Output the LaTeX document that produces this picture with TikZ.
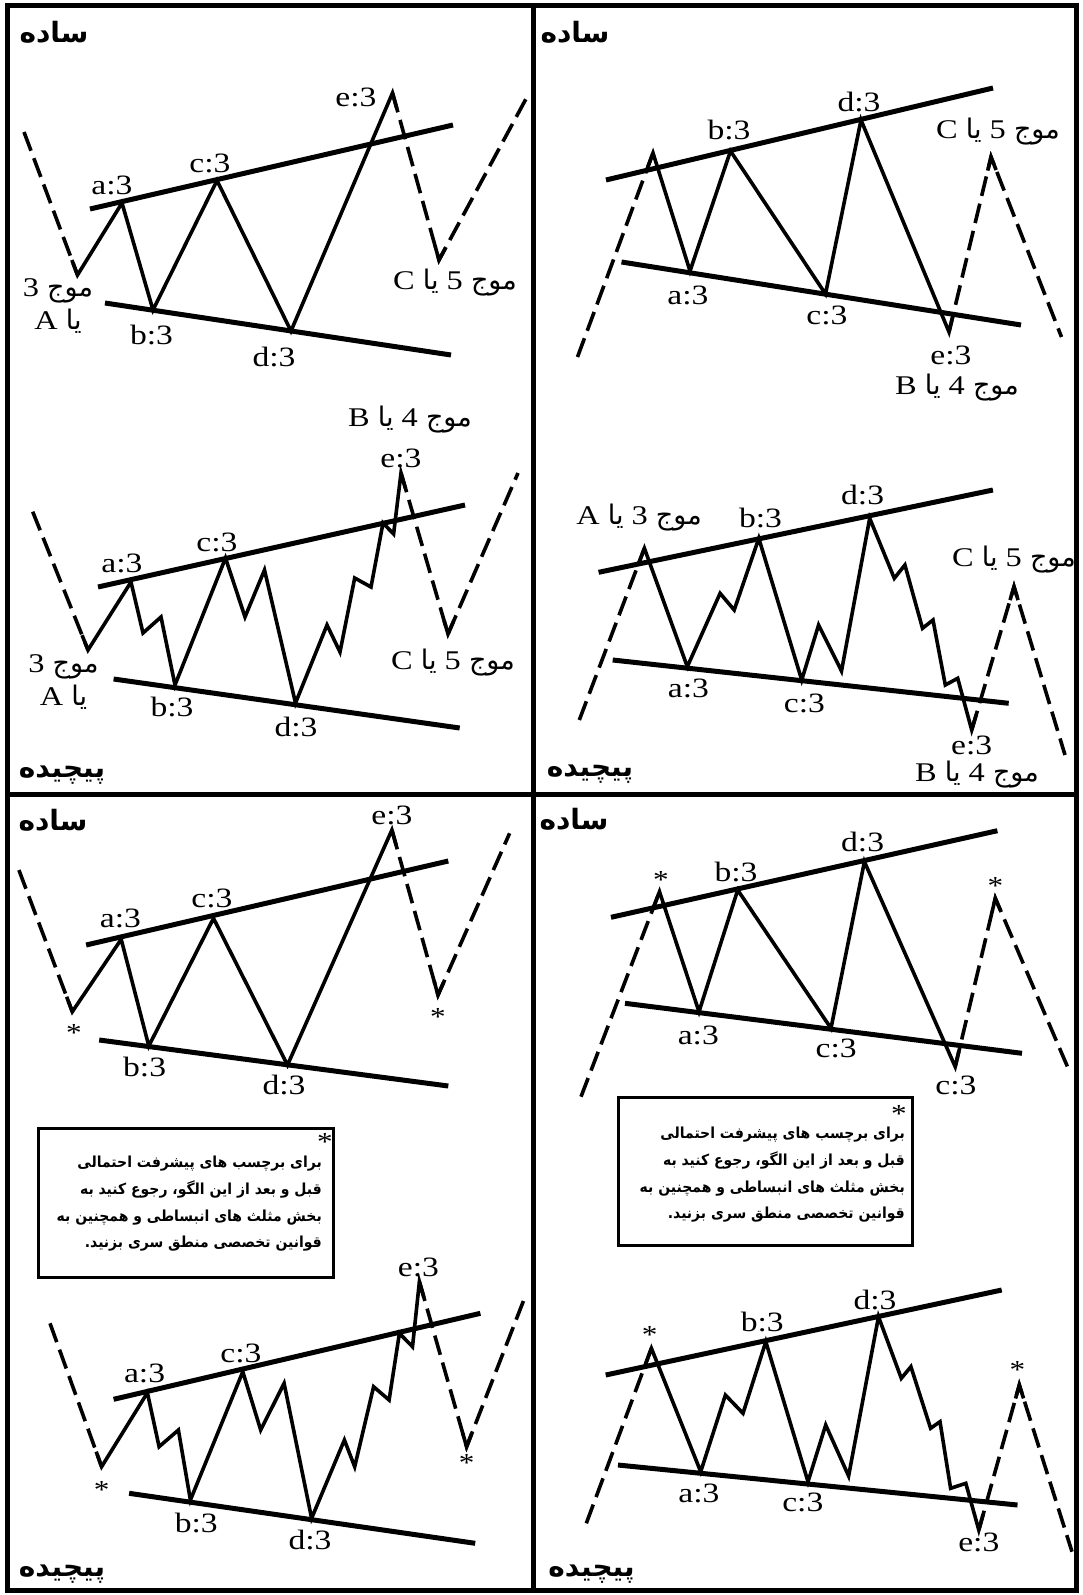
\documentclass[tikz,border=0pt]{standalone}
\usepackage{fontspec}
\setmainfont{Liberation Serif}[FakeStretch=1.2]
\newfontfamily\ar[Script=Arabic]{DejaVu Sans}
\newfontfamily\arn[Script=Arabic,FakeStretch=0.92]{DejaVu Sans}
\TeXXeTstate=1
\usetikzlibrary{calc}
\newcommand\mowj[2]{\beginR{\ar موج} #1 {\ar یا} #2\endR}
\newcommand\twoline{\beginR{\ar موج} 3\endR\\\beginR{\ar یا} A\endR}
\newcommand\notetext{%
\beginR برای برچسب های پیشرفت احتمالی\endR\hspace{14pt}\\
\beginR قبل و بعد از این الگو، رجوع کنید به\endR\\
\beginR بخش مثلث های انبساطی و همچنین به\endR\\
\beginR قوانین تخصصی منطق سری بزنید.\endR}
\begin{document}
\begin{tikzpicture}[x=1pt,y=-1pt,
  wave/.style={line width=3.6pt},
  dsh/.style={line width=3.6pt, dash pattern=on 20pt off 8pt},
  trend/.style={line width=5pt},
  lbl/.style={font=\fontsize{28}{30}\selectfont, inner sep=0pt},
  fa/.style={font=\fontsize{27}{33}\selectfont, inner sep=0pt, align=center},
  ttl/.style={font=\ar\bfseries\fontsize{28}{30}\selectfont, inner sep=0pt},
  star/.style={font=\fontsize{26}{28}\selectfont, inner sep=0pt},
  notebox/.style={draw, line width=3pt},
  notetxt/.style={font=\arn\bfseries\fontsize{15.2}{26.7}\selectfont, inner sep=0pt, align=right},
]
\useasboundingbox (0,0) rectangle (1082,1595);
\fill[white] (0,0) rectangle (1082,1595);
% frame
\draw[line width=5pt] (7,6) rectangle (1076,1590);
\draw[line width=5pt] (533,6) -- (533,1590);
\draw[line width=5pt] (7,794) -- (1076,794);

% ---------------- Panel 1 (top-left, simple)
\node[ttl] (t1) at (54,32) {ساده};
\draw[trend] (90,209) -- (453,125);
\draw[trend] (105,303) -- (451,355);
\draw[dsh] (24,132) -- (77.5,275);
\draw[wave] ($(77.5,275)!16pt!(24,132)$) -- (77.5,275) -- (122,203) -- (153,310) -- (217,180.5) -- (291,331) -- (392.5,93) -- ($(392.5,93)!16pt!(439,260)$);
\draw[dsh] (392.5,93) -- (439,260) -- (527,97);
\draw[wave] ($(439,260)!14pt!(392.5,93)$) -- (439,260) -- ($(439,260)!14pt!(527,97)$);
\node[lbl] (p1a) at (112,185) {a:3};
\node[lbl] (p1c) at (210,163) {c:3};
\node[lbl] (p1e) at (356,97) {e:3};
\node[lbl] (p1b) at (151.5,335) {b:3};
\node[lbl] (p1d) at (274,357) {d:3};
\node[fa] (p1w3) at (58,306) {\twoline};
\node[fa] (p1w5) at (455,283) {\mowj{5}{C}};

% ---------------- Panel 2 (top-right, simple)
\node[ttl] (t2) at (575,32) {ساده};
\draw[trend] (606,180) -- (993,88);
\draw[trend] (621.5,262) -- (1021,325);
\draw[dsh] (577.5,357) -- (653,153);
\draw[wave] ($(653,153)!16pt!(577.5,357)$) -- (653,153) -- (690,271) -- (730.5,151) -- (825.5,294) -- (861,120) -- (949,332) -- ($(949,332)!16pt!(991,157)$);
\draw[dsh] (949,332) -- (991,157) -- (1061.5,337);
\draw[wave] ($(991,157)!14pt!(949,332)$) -- (991,157) -- ($(991,157)!14pt!(1061.5,337)$);
\node[lbl] (p2b) at (729,130) {b:3};
\node[lbl] (p2d) at (859,102) {d:3};
\node[lbl] (p2a) at (688,295) {a:3};
\node[lbl] (p2c) at (827,315) {c:3};
\node[lbl] (p2e) at (951,355) {e:3};
\node[fa] (p2w5) at (998,132) {\mowj{5}{C}};
\node[fa] (p2w4) at (957,388) {\mowj{4}{B}};

% ---------------- Panel 3 (left, complex)
\node[ttl] (t3) at (62,775) {پیچیده};
\draw[trend] (98,587) -- (465,505);
\draw[trend] (113.6,679) -- (459.7,728);
\draw[dsh] (32.7,511.7) -- (88,650);
\draw[wave] ($(88,650)!16pt!(32.7,511.7)$) -- (88,650) -- (131,582) -- (143,633) -- (161,617) -- (175,685) -- (225.5,558) -- (245,617) -- (264.5,570) -- (295.5,703) -- (327,625) -- (340,652) -- (354.7,578) -- (371,587) -- (383,523) -- (393.6,534) -- (401,473) -- ($(401,473)!16pt!(448,634)$);
\draw[dsh] (401,473) -- (448,634) -- (518,473);
\draw[wave] ($(448,634)!14pt!(401,473)$) -- (448,634) -- ($(448,634)!14pt!(518,473)$);
\node[fa] (p3w4) at (410,420) {\mowj{4}{B}};
\node[lbl] (p3e) at (401,458) {e:3};
\node[lbl] (p3a) at (122,563) {a:3};
\node[lbl] (p3c) at (217,542) {c:3};
\node[lbl] (p3b) at (172,707) {b:3};
\node[lbl] (p3d) at (296,727) {d:3};
\node[fa] (p3w3) at (63.5,682) {\twoline};
\node[fa] (p3w5) at (453,663) {\mowj{5}{C}};

% ---------------- Panel 4 (right, complex)
\node[ttl] (t4) at (590,774) {پیچیده};
\draw[trend] (598.6,572.3) -- (992.9,490);
\draw[trend] (612.7,660) -- (1008.7,703.3);
\draw[dsh] (579.3,720) -- (644.4,548.3);
\draw[wave] ($(644.4,548.3)!16pt!(579.3,720)$) -- (644.4,548.3) -- (687.3,666.7) -- (720.1,593.3) -- (734.2,610) -- (758.8,538.3) -- (801.7,680) -- (818.6,625) -- (841.5,671) -- (869.7,518.3) -- (894.3,578.3) -- (904.9,565) -- (922.5,628.3) -- (933,620) -- (945.3,685) -- (957.7,678.3) -- (971.7,730) -- ($(971.7,730)!16pt!(1014,586.7)$);
\draw[dsh] (971.7,730) -- (1014,586.7) -- (1065,755);
\draw[wave] ($(1014,586.7)!14pt!(971.7,730)$) -- (1014,586.7) -- ($(1014,586.7)!14pt!(1065,755)$);
\node[fa] (p4w3) at (639,518) {\mowj{3}{A}};
\node[lbl] (p4b) at (760.5,518) {b:3};
\node[lbl] (p4d) at (862.6,495) {d:3};
\node[fa] (p4w5) at (1014,560) {\mowj{5}{C}};
\node[lbl] (p4a) at (688.4,688) {a:3};
\node[lbl] (p4c) at (804.5,703) {c:3};
\node[lbl] (p4e) at (971.7,745) {e:3};
\node[fa] (p4w4) at (977,775) {\mowj{4}{B}};

% ---------------- Panel 5 (bottom-left, simple)
\node[ttl] (t5) at (53,820) {ساده};
\draw[trend] (86.1,945) -- (448.3,861);
\draw[trend] (99.2,1040) -- (448.3,1086);
\draw[dsh] (18.9,870) -- (72.3,1011.7);
\draw[wave] ($(72.3,1011.7)!16pt!(18.9,870)$) -- (72.3,1011.7) -- (121.2,939.3) -- (148.8,1046) -- (213.5,918.3) -- (287.5,1065) -- (391.9,830) -- ($(391.9,830)!16pt!(438,995)$);
\draw[dsh] (391.9,830) -- (438,995) -- (509.6,833.3);
\draw[wave] ($(438,995)!14pt!(391.9,830)$) -- (438,995) -- ($(438,995)!14pt!(509.6,833.3)$);
\node[lbl] (p5a) at (120.5,918) {a:3};
\node[lbl] (p5c) at (212,898) {c:3};
\node[lbl] (p5e) at (392,815) {e:3};
\node[lbl] (p5b) at (144.6,1067) {b:3};
\node[lbl] (p5d) at (284,1085) {d:3};
\node[star] (p5s1) at (74,1033) {*};
\node[star] (p5s2) at (438,1017) {*};

% ---------------- Panel 6 (bottom-right, simple)
\node[ttl] (t6) at (574,819) {ساده};
\draw[trend] (611,917.3) -- (997.4,830.7);
\draw[trend] (625,1003.3) -- (1022,1053.3);
\draw[dsh] (581,1096.7) -- (659.5,891.7);
\draw[wave] ($(659.5,891.7)!16pt!(581,1096.7)$) -- (659.5,891.7) -- (699,1011.7) -- (737.7,890) -- (831,1028.3) -- (864.4,861.7) -- (955.2,1066.7) -- ($(955.2,1066.7)!16pt!(995.3,898.3)$);
\draw[dsh] (955.2,1066.7) -- (995.3,898.3) -- (1070.3,1073.3);
\draw[wave] ($(995.3,898.3)!14pt!(955.2,1066.7)$) -- (995.3,898.3) -- ($(995.3,898.3)!14pt!(1070.3,1073.3)$);
\node[lbl] (p6b) at (736,872) {b:3};
\node[lbl] (p6d) at (862.6,842) {d:3};
\node[lbl] (p6a) at (698.3,1035) {a:3};
\node[lbl] (p6c) at (836.2,1048) {c:3};
\node[lbl] (p6c2) at (956,1085) {c:3};
\node[star] (p6s1) at (661,880) {*};
\node[star] (p6s2) at (995.3,886) {*};
\draw[notebox] (618,1097) rectangle (912,1245);
\node[notetxt, anchor=east] (n6) at (905,1175) {\notetext};
\node[star] (n6s) at (899,1114) {*};

% ---------------- Panel 7 (bottom-left, complex)
\node[ttl] (t7) at (62,1574) {پیچیده};
\draw[notebox] (38,1128) rectangle (333,1277);
\node[notetxt, anchor=east] (n7) at (322,1204) {\notetext};
\node[star] (n7s) at (325,1142) {*};
\draw[trend] (113.6,1399.3) -- (480.4,1313.3);
\draw[trend] (129.1,1493.3) -- (475.2,1543.3);
\draw[dsh] (50,1323.3) -- (101.6,1466.7);
\draw[wave] ($(101.6,1466.7)!16pt!(50,1323.3)$) -- (101.6,1466.7) -- (147.4,1392.7) -- (159.1,1446.7) -- (178.4,1430) -- (190.4,1500) -- (242.8,1371.7) -- (260.7,1430) -- (284.1,1383.3) -- (311.6,1518.3) -- (344.4,1440) -- (354.7,1466.7) -- (373.6,1386.7) -- (389.1,1400) -- (399.4,1333.3) -- (412.5,1346.7) -- (419.4,1281.7) -- ($(419.4,1281.7)!16pt!(466.6,1446.7)$);
\draw[dsh] (419.4,1281.7) -- (466.6,1446.7) -- (525.1,1296.7);
\draw[wave] ($(466.6,1446.7)!14pt!(419.4,1281.7)$) -- (466.6,1446.7) -- ($(466.6,1446.7)!14pt!(525.1,1296.7)$);
\node[lbl] (p7a) at (144.6,1373) {a:3};
\node[lbl] (p7c) at (241,1353) {c:3};
\node[lbl] (p7e) at (418.4,1267) {e:3};
\node[lbl] (p7b) at (196.3,1523) {b:3};
\node[lbl] (p7d) at (310,1540) {d:3};
\node[star] (p7s1) at (101.6,1490) {*};
\node[star] (p7s2) at (466.6,1463) {*};

% ---------------- Panel 8 (bottom-right, complex)
\node[ttl] (t8) at (591.5,1574) {پیچیده};
\draw[trend] (605.7,1375) -- (1001.7,1290);
\draw[trend] (618,1465) -- (1017.5,1505);
\draw[dsh] (586.3,1523.3) -- (651.4,1348.3);
\draw[wave] ($(651.4,1348.3)!16pt!(586.3,1523.3)$) -- (651.4,1348.3) -- (700.7,1471.7) -- (725.4,1395) -- (743,1413.3) -- (765.8,1341.7) -- (808,1481.7) -- (825.7,1425) -- (848.6,1476) -- (878.5,1316.7) -- (901.3,1378.3) -- (910.9,1366.7) -- (930.6,1428.3) -- (940,1421.7) -- (950.6,1488.3) -- (965.8,1483.3) -- (978.8,1530) -- ($(978.8,1530)!16pt!(1019.3,1385)$);
\draw[dsh] (978.8,1530) -- (1019.3,1385) -- (1072,1551.7);
\draw[wave] ($(1019.3,1385)!14pt!(978.8,1530)$) -- (1019.3,1385) -- ($(1019.3,1385)!14pt!(1072,1551.7)$);
\node[lbl] (p8b) at (762.3,1322) {b:3};
\node[lbl] (p8d) at (875,1300) {d:3};
\node[lbl] (p8a) at (699,1493) {a:3};
\node[lbl] (p8c) at (802.8,1502) {c:3};
\node[lbl] (p8e) at (978.8,1542) {e:3};
\node[star] (p8s1) at (649.7,1335) {*};
\node[star] (p8s2) at (1017.5,1370) {*};
\end{tikzpicture}
\end{document}
